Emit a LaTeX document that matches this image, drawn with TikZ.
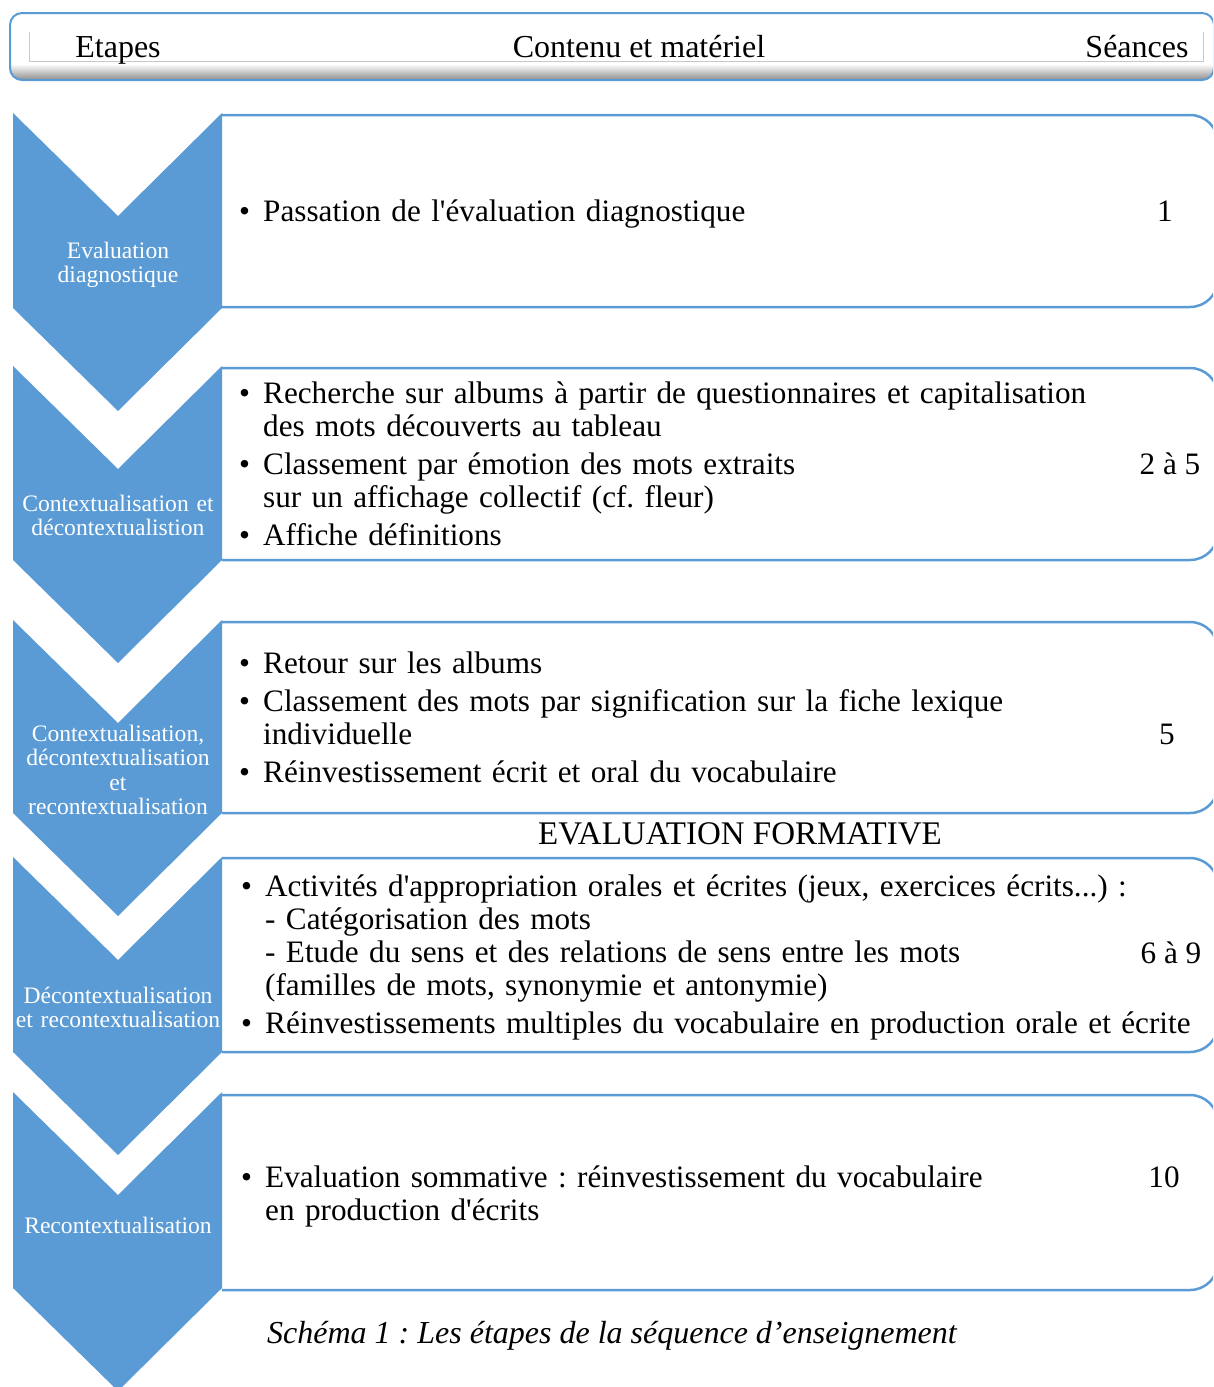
\documentclass[tikz,border=0pt]{standalone}
\usepackage{fontspec}
\setmainfont{Liberation Serif}
\frenchspacing
\definecolor{accblue}{HTML}{5B9BD5}
\definecolor{rulegray}{HTML}{C8C8C8}
\pgfdeclareverticalshading{hdrshade}{100bp}{color(0bp)=(black!45); color(25bp)=(black!45); color(31bp)=(black!22); color(37bp)=(white); color(100bp)=(white)}
\newcommand\itm{\makebox[24pt][l]{\textbullet}}
\newcommand\hang{\hspace*{24pt}}
\newcommand\chevronshape[2]{%
  \fill[accblue] (13,#1) -- (118,{#1+103}) -- (222,#1) -- (222,#2) -- (118,{#2+103}) -- (13,#2) -- cycle;}
\newcommand\contentbox[2]{%
  \draw[accblue, line width=2.5pt] (222,#1) -- (1190,#1) arc[start angle=-90, end angle=0, radius=28] -- (1218,{#2-28}) arc[start angle=0, end angle=90, radius=28] -- (222,#2);}
\begin{document}
\begin{tikzpicture}[x=1pt,y=-1pt,
  chevlbl/.style={text=white, font=\fontsize{23.6}{24.5}\selectfont, text width=230pt, align=center, inner sep=0pt, anchor=base},
  content/.style={font=\fontsize{31.2}{33}\selectfont, text width=990pt, align=left, inner sep=0pt, anchor=base west},
  seance/.style={font=\fontsize{31.2}{33}\selectfont, inner sep=0pt, anchor=base},
  hdr/.style={font=\fontsize{32}{33}\selectfont, inner sep=0pt, anchor=base}]
\useasboundingbox (0,0) rectangle (1213,1387);
\clip (0,0) rectangle (1213,1387);

% header
\shade[shading=hdrshade, rounded corners=12pt] (10,13) rectangle (1214,80);
\draw[accblue, line width=2pt, rounded corners=12pt] (10,13) rectangle (1214,80);
\draw[rulegray, line width=1pt] (29,32) -- (29,61) -- (1203,61) -- (1203,32);
\node[hdr] (hEtapes) at (118,57) {Etapes};
\node[hdr] (hContenu) at (639,57) {Contenu et matériel};
\node[hdr] (hSeances) at (1137,57) {Séances};

% chevrons
\chevronshape{113}{308}
\chevronshape{366}{560}
\chevronshape{620}{813}
\chevronshape{857}{1052}
\chevronshape{1092}{1288}

% boxes
\contentbox{115}{307}
\contentbox{368}{560}
\contentbox{622}{813}
\contentbox{858}{1052}
\contentbox{1095}{1290}

% chevron labels
\node[chevlbl] (e1) at (118,258) {Evaluation\\diagnostique};
\node[chevlbl] (e2) at (118,511) {Contextualisation et\\décontextualistion};
\node[chevlbl] (e3) at (118,741) {Contextualisation,\\décontextualisation\\et\\recontextualisation};
\node[chevlbl] (e4) at (118,1003) {Décontextualisation\\et recontextualisation};
\node[chevlbl] (e5) at (118,1233) {Recontextualisation};

% contents
\node[content] (c1) at (239,221) {\itm Passation de l\textquotesingle évaluation diagnostique};
\node[content] (c2) at (239,403) {\itm Recherche sur albums à partir de questionnaires et capitalisation\\
\hang des mots découverts au tableau\\[5pt]
\itm Classement par émotion des mots extraits\\
\hang sur un affichage collectif (cf. fleur)\\[5pt]
\itm Affiche définitions};
\node[content] (c3) at (239,673) {\itm Retour sur les albums\\[5pt]
\itm Classement des mots par signification sur la fiche lexique\\
\hang individuelle\\[5pt]
\itm Réinvestissement écrit et oral du vocabulaire};
\node[content] (c4) at (241,896) {\itm Activités d\textquotesingle appropriation orales et écrites (jeux, exercices écrits...) :\\
\hang - Catégorisation des mots\\
\hang - Etude du sens et des relations de sens entre les mots\\
\hang (familles de mots, synonymie et antonymie)\\[5pt]
\itm Réinvestissements multiples du vocabulaire en production orale et écrite};
\node[content] (c5) at (241,1187) {\itm Evaluation sommative : réinvestissement du vocabulaire\\
\hang en production d\textquotesingle écrits};

% seances
\node[seance] (s1) at (1165,221) {1};
\node[seance] (s2) at (1170,474) {2 à 5};
\node[seance] (s3) at (1167,744) {5};
\node[seance] (s4) at (1171,963) {6 à 9};
\node[seance] (s5) at (1164,1187) {10};

\node[seance, font=\fontsize{33}{33}\selectfont] (formative) at (740,844) {EVALUATION FORMATIVE};
\node[seance, font=\fontsize{32}{33}\selectfont\itshape] (caption) at (612,1343) {Schéma 1 : Les étapes de la séquence d’enseignement};
\end{tikzpicture}
\end{document}
